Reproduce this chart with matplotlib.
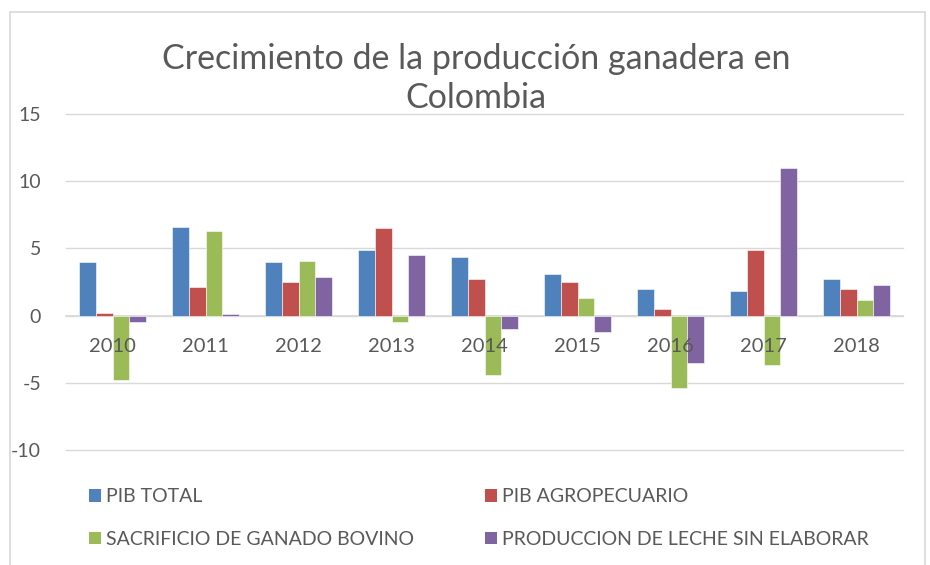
import numpy as np
import matplotlib
matplotlib.use("Agg")
import matplotlib.pyplot as plt
from matplotlib.patches import Patch, Rectangle

plt.rcParams['font.family'] = ['Lato', 'DejaVu Sans']
plt.rcParams['axes.unicode_minus'] = False

# Data
years = ['2010', '2011', '2012', '2013', '2014', '2015', '2016', '2017', '2018']
pib_total = [4.0, 6.6, 4.0, 4.9, 4.4, 3.1, 2.0, 1.8, 2.7]
pib_agro = [0.2, 2.1, 2.5, 6.5, 2.7, 2.5, 0.5, 4.9, 2.0]
sacrificio = [-4.8, 6.3, 4.1, -0.5, -4.4, 1.3, -5.4, -3.7, 1.2]
leche = [-0.5, 0.1, 2.9, 4.5, -1.0, -1.2, -3.5, 11.0, 2.3]

series_names = ['PIB TOTAL', 'PIB AGROPECUARIO',
                'SACRIFICIO DE GANADO BOVINO', 'PRODUCCION DE LECHE SIN ELABORAR']
colors = ['#4F81BD', '#C0504D', '#9BBB59', '#8064A2']
grey = '#595959'

fig = plt.figure(figsize=(9.3, 5.65), dpi=100)
ax = fig.add_axes([0.071, 0.2035, 0.9, 0.5945])

x = np.arange(len(years))
w = 0.18
for i, (vals, col) in enumerate(zip([pib_total, pib_agro, sacrificio, leche], colors)):
    ax.bar(x + (i - 1.5) * w, vals, width=w, color=col, edgecolor='white',
           linewidth=0.4, zorder=3)

ax.set_xlim(-0.5, len(years) - 0.5)
ax.set_ylim(-10, 15)
ax.set_yticks([-10, -5, 0, 5, 10, 15])
ax.set_axisbelow(True)
ax.yaxis.grid(True, color='#D9D9D9', linewidth=1.0, clip_on=False)
ax.tick_params(axis='y', length=0, pad=18, labelsize=14, labelcolor=grey)

ax.set_xticks(x)
ax.set_xticklabels(years)
ax.xaxis.set_zorder(5)
ax.spines['bottom'].set_position(('data', 0))
ax.spines['bottom'].set_color('#D9D9D9')
ax.spines['bottom'].set_linewidth(1.3)
ax.spines['bottom'].set_zorder(2)
ax.tick_params(axis='x', length=0, pad=16, labelsize=14.5, labelcolor=grey)
for s in ['top', 'right', 'left']:
    ax.spines[s].set_visible(False)

fig.text(0.512, 0.861, 'Crecimiento de la producción ganadera en\nColombia',
         ha='center', va='center', fontsize=24.5, color=grey, linespacing=1.3)

# legends in two columns
h = [Patch(facecolor=c) for c in colors]
common = dict(loc='center left', frameon=False, fontsize=14, labelcolor=grey,
              handlelength=0.6, handleheight=0.6, handletextpad=0.25,
              labelspacing=1.3)
fig.legend([h[0], h[2]], [series_names[0], series_names[2]],
           bbox_to_anchor=(0.077, 0.083), **common)
fig.legend([h[1], h[3]], [series_names[1], series_names[3]],
           bbox_to_anchor=(0.503, 0.083), **common)

# chart border
fig.patches.append(Rectangle((10 / 930, -0.05), 915 / 930, 1.05 - 12 / 565,
                             transform=fig.transFigure, fill=False,
                             edgecolor='#D9D9D9', linewidth=1.2))

fig.savefig('out.png', dpi=100)
